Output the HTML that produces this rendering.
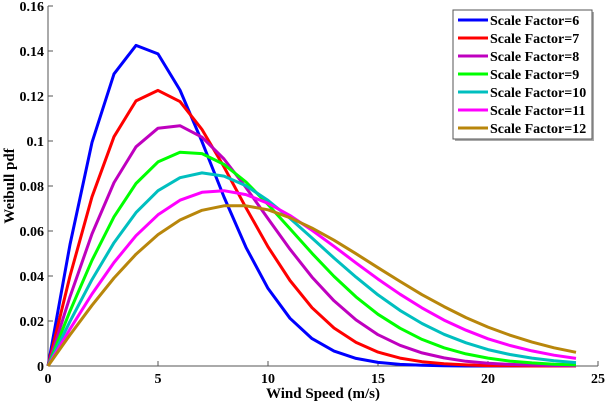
<!DOCTYPE html>
<html><head><meta charset="utf-8"><style>
body{margin:0;background:#fff;}
svg text{font-family:"Liberation Serif",serif;font-weight:bold;fill:#000;}
</style></head><body>
<svg id="chart" width="605" height="403" xmlns="http://www.w3.org/2000/svg">
<g id="axes"></g>
<g id="series"></g>
<g id="legend"></g>
</svg>
<script>
const xVals=[0,1,2,3,4,5,6,7,8,9,10,11,12,13,14,15,16,17,18,19,20,21,22,23,24];
const s6=[0,.0540,.0994,.1298,.1425,.1387,.1226,.0997,.0751,.0527,.0345,.0212,.0122,.0066,.0034,.0016,.0007,.0003,.0001,0,0,0,0,0,0];
const s7=[0,.0400,.0752,.1019,.1178,.1225,.1175,.1051,.0885,.0703,.0530,.0380,.0259,.0169,.0105,.0062,.0035,.0019,.0010,.0005,.0002,.0001,0,0,0];
const s8=[0,.0308,.0587,.0815,.0974,.1057,.1068,.1017,.0920,.0793,.0655,.0519,.0395,.0290,.0205,.0139,.0092,.0058,.0036,.0021,.0012,.0007,.0004,.0002,.0001];
const s9=[0,.0244,.0470,.0663,.0811,.0907,.0950,.0944,.0896,.0818,.0718,.0610,.0501,.0398,.0307,.0230,.0168,.0118,.0081,.0054,.0035,.0022,.0014,.0008,.0005];
const s10=[0,.0198,.0384,.0548,.0682,.0779,.0837,.0858,.0844,.0801,.0736,.0656,.0569,.0480,.0395,.0316,.0247,.0189,.0141,.0103,.0073,.0051,.0035,.0023,.0015];
const s11=[0,.0164,.0320,.0460,.0579,.0672,.0737,.0772,.0779,.0762,.0723,.0669,.0603,.0532,.0458,.0386,.0319,.0258,.0204,.0159,.0121,.0091,.0067,.0048,.0034];
const s12=[0,.0138,.0270,.0391,.0497,.0584,.0649,.0692,.0712,.0712,.0694,.0659,.0613,.0559,.0499,.0437,.0376,.0317,.0264,.0215,.0173,.0137,.0106,.0081,.0061];
const seriesLabels=["Scale Factor=6","Scale Factor=7","Scale Factor=8","Scale Factor=9","Scale Factor=10","Scale Factor=11","Scale Factor=12"];
const xTicks=[0,5,10,15,20,25];
const yTicks=[0,0.02,0.04,0.06,0.08,0.1,0.12,0.14,0.16];
const yTickLabels=["0","0.02","0.04","0.06","0.08","0.1","0.12","0.14","0.16"];

const NS="http://www.w3.org/2000/svg";
const L=48,R=598,T=6,B=366;
const xs=v=>L+(v/25)*(R-L);
const ys=v=>B-(v/0.16)*(B-T);
function mk(tag,attrs,parent){const e=document.createElementNS(NS,tag);for(const k in attrs)e.setAttribute(k,attrs[k]);parent.appendChild(e);return e;}
const axes=document.getElementById('axes');
let a=mk('line',{x1:L,y1:T,x2:L,y2:B,stroke:'#555','stroke-width':1},axes);


a=mk('line',{x1:L,y1:B,x2:R,y2:B,stroke:'#555','stroke-width':1},axes);


xTicks.forEach(t=>{
  const tk=mk('line',{x1:xs(t),y1:B,x2:xs(t),y2:B-5,stroke:'#555'},axes);
  
  
  const tx=mk('text',{x:xs(t),y:B+17,'text-anchor':'middle','font-size':14},axes);
  tx.textContent=t;
  
  
});
yTicks.forEach((t,i)=>{
  const tk=mk('line',{x1:L,y1:ys(t),x2:L+5,y2:ys(t),stroke:'#555'},axes);
  
  
  const tx=mk('text',{x:L-4,y:ys(t)+5,'text-anchor':'end','font-size':14},axes);
  tx.textContent=yTickLabels[i];
  
  
});
let xt=mk('text',{x:323,y:398,'text-anchor':'middle','font-size':15},axes);
xt.textContent="Wind Speed (m/s)";


let yt=mk('text',{x:14,y:186,'text-anchor':'middle','font-size':15,transform:'rotate(-90 14 186)'},axes);
yt.textContent="Weibull pdf";



const allSeries=[s6,s7,s8,s9,s10,s11,s12];
const colors=['#0000ff','#ff0000','#bf00bf','#00ff00','#00bfbf','#ff00ff','#b8860b'];
const sg=document.getElementById('series');
allSeries.forEach((s,i)=>{
  const d=s.map((v,j)=>(j?'L':'M')+xs(xVals[j]).toFixed(1)+','+ys(v).toFixed(1)).join(' ');
  const p=mk('path',{d:d,fill:'none',stroke:colors[i],'stroke-width':3,'stroke-linejoin':'round'},sg);
  
  
});
const lg=document.getElementById('legend');
const shadow=mk('rect',{x:455,y:12,width:139,height:129,fill:'#aaa'},lg);


const box=mk('rect',{x:453,y:10,width:139,height:129,fill:'#fff',stroke:'#555','stroke-width':1},lg);


seriesLabels.forEach((lab,i)=>{
  const y=20+i*18;
  const ln=mk('line',{x1:458,y1:y,x2:488,y2:y,stroke:colors[i],'stroke-width':3},lg);
  
  
  const tx=mk('text',{x:490,y:y+5,'font-size':14},lg);
  tx.textContent=lab;
  
  
});
</script>
</body></html>
